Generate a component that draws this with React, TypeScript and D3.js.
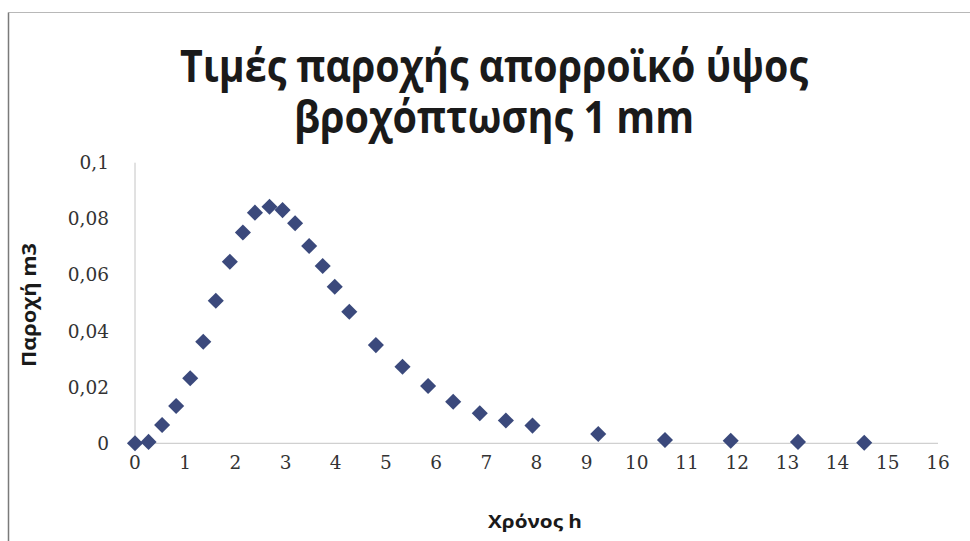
import React from "react";
import * as d3 from "d3";

// Discharge hydrograph for 1 mm of effective rainfall
const timeH = [
  0, 0.27, 0.54, 0.82, 1.1, 1.36, 1.61, 1.89, 2.15, 2.39, 2.68, 2.94, 3.19,
  3.47, 3.74, 3.98, 4.27, 4.8, 5.33, 5.84, 6.34, 6.87, 7.39, 7.92, 9.23,
  10.56, 11.87, 13.21, 14.53,
];
const dischargeM3 = [
  0, 0.0005, 0.0065, 0.0133, 0.0232, 0.0362, 0.0508, 0.0647, 0.0751, 0.0822,
  0.0843, 0.0831, 0.0784, 0.0703, 0.0632, 0.0558, 0.0469, 0.035, 0.0273,
  0.0204, 0.0148, 0.0107, 0.0081, 0.0063, 0.0033, 0.0012, 0.0009, 0.0005,
  0.0002,
];
const xTicks = d3.range(0, 17, 1);
const yTicks = [0, 0.02, 0.04, 0.06, 0.08, 0.1];

const titleLines = ["Τιμές παροχής απορροϊκό ύψος", "βροχόπτωσης 1 mm"];
const titleWidths = [628, 400];
const xTitle = "Χρόνος h";
const yTitle = "Παροχή m3";

const W = 970;
const H = 541;

const formatY = (v: number) =>
  v === 0 ? "0" : d3.format(".2~f")(v).replace(".", ",");

export default function App() {
  const x = d3.scaleLinear().domain([0, 16]).range([135, 938]);
  const y = d3.scaleLinear().domain([0, 0.1]).range([443.3, 162.7]);
  const diamond = d3.symbol().type(d3.symbolDiamond2).size(165)();
  const pts = timeH.map((t, i) => ({ t, q: dischargeM3[i] }));
  const sans = "'Open Sans', 'Noto Sans', sans-serif";
  const serif = "'DejaVu Serif', 'Liberation Serif', serif";

  return (
    <svg
      width={W}
      height={H}
      style={{ position: "absolute", left: 0, top: 0, background: "#fff" }}
    >
      <defs>
        <filter id="soft" x="-20%" y="-20%" width="140%" height="140%">
          <feGaussianBlur stdDeviation="0.7" />
        </filter>
      </defs>
      {/* chart frame */}
      <line x1={8.5} y1={12.5} x2={W} y2={12.5} stroke="#b8b8b8" strokeWidth={1.2} />
      <line x1={8.5} y1={12.5} x2={8.5} y2={H} stroke="#7a7a7a" strokeWidth={1.5} />

      {titleLines.map((s, i) => (
        <text
          key={i}
          x={494}
          y={82 + i * 51}
          textAnchor="middle"
          fontFamily={sans}
          fontWeight={700}
          fontSize={44}
          textLength={titleWidths[i]}
          lengthAdjust="spacingAndGlyphs"
          fill="#1a1a1a"
        >
          {s}
        </text>
      ))}

      {/* axes */}
      <line x1={x(0)} y1={y(0.1)} x2={x(0)} y2={y(0)} stroke="#c4c4c4" strokeWidth={1} />
      <line x1={x(0)} y1={y(0)} x2={x(16)} y2={y(0)} stroke="#d0d0d0" strokeWidth={1.2} />

      {yTicks.map((v) => (
        <text
          key={v}
          x={109}
          y={y(v)}
          dy="0.35em"
          textAnchor="end"
          fontFamily={serif}
          fontSize={18.5}
          fill="#333"
        >
          {formatY(v)}
        </text>
      ))}
      {xTicks.map((v) => (
        <text
          key={v}
          x={x(v)}
          y={469}
          textAnchor="middle"
          fontFamily={serif}
          fontSize={18.5}
          fill="#333"
        >
          {v}
        </text>
      ))}

      <text
        x={535}
        y={528}
        textAnchor="middle"
        fontFamily={sans}
        fontWeight={700}
        fontSize={18}
        textLength={94}
        lengthAdjust="spacingAndGlyphs"
        fill="#1a1a1a"
      >
        {xTitle}
      </text>
      <text
        transform={`translate(36,305) rotate(-90)`}
        textAnchor="middle"
        fontFamily={sans}
        fontWeight={700}
        fontSize={19}
        textLength={124}
        lengthAdjust="spacingAndGlyphs"
        fill="#1a1a1a"
      >
        {yTitle}
      </text>

      <g filter="url(#soft)">
        {pts.map((p, i) => (
          <path
            key={i}
            d={diamond as string}
            transform={`translate(${x(p.t)},${y(p.q)})`}
            fill="#3b4a7c"
          />
        ))}
      </g>
    </svg>
  );
}
